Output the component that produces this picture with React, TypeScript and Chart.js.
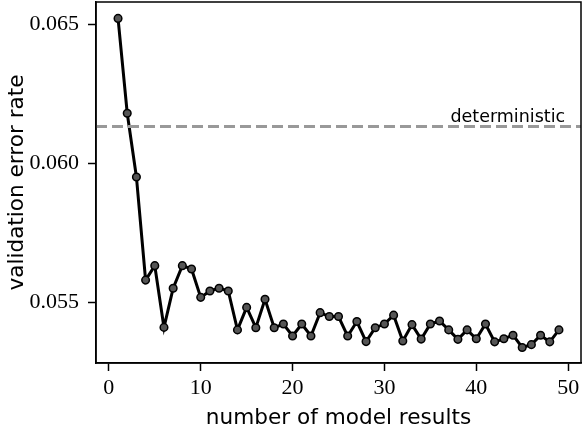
import React, { useEffect, useRef } from "react";
import { Chart, registerables } from "chart.js";

Chart.register(...registerables);

const modelCounts = [
  1, 2, 3, 4, 5, 6, 7, 8, 9, 10, 11, 12, 13, 14, 15, 16, 17, 18, 19, 20, 21, 22, 23, 24, 25,
  26, 27, 28, 29, 30, 31, 32, 33, 34, 35, 36, 37, 38, 39, 40, 41, 42, 43, 44, 45, 46, 47, 48, 49,
];
const errorRates = [
  0.06522, 0.06181, 0.05952, 0.05581, 0.05633, 0.05411, 0.05552, 0.05633, 0.05621, 0.05519,
  0.05542, 0.05552, 0.05542, 0.05402, 0.05483, 0.0541, 0.05512, 0.0541, 0.05423, 0.0538,
  0.05423, 0.0538, 0.05464, 0.0545, 0.0545, 0.0538, 0.05432, 0.0536, 0.0541, 0.05423,
  0.05455, 0.05362, 0.05421, 0.05369, 0.05423, 0.05434, 0.05402, 0.05368, 0.05402, 0.0537,
  0.05423, 0.05359, 0.0537, 0.05383, 0.05339, 0.05349, 0.05383, 0.05359, 0.05402,
];
const deterministicRate = 0.06133;
const deterministicLabel = "deterministic";
const xTicks = [0, 10, 20, 30, 40, 50];
const yTicks = [0.055, 0.06, 0.065];
const xRange = [-1.4, 51.4];
const yRange = [0.05283, 0.06581];

const frame = {
  id: "frame",
  afterDatasetsDraw(chart: any) {
    const { ctx, chartArea, scales } = chart;
    ctx.save();
    ctx.font = "17.5px 'DejaVu Sans'";
    ctx.fillStyle = "#000";
    ctx.textAlign = "right";
    ctx.textBaseline = "alphabetic";
    ctx.fillText(
      deterministicLabel,
      scales.x.getPixelForValue(50) - 3,
      scales.y.getPixelForValue(deterministicRate) - 5
    );
    ctx.strokeStyle = "#000";
    ctx.lineWidth = 1.5;
    ctx.strokeRect(
      chartArea.left,
      chartArea.top,
      chartArea.right - chartArea.left,
      chartArea.bottom - chartArea.top
    );
    ctx.restore();
  },
};

export default function App() {
  const ref = useRef<HTMLCanvasElement>(null);
  useEffect(() => {
    if (!ref.current) return;
    const tickFont = { family: "'Liberation Serif'", size: 22 };
    const titleFont = { family: "'DejaVu Sans'", size: 21.6, lineHeight: 1.2 };
    const chart = new Chart(ref.current, {
      type: "line",
      data: {
        datasets: [
          {
            data: [
              { x: xRange[0], y: deterministicRate },
              { x: xRange[1], y: deterministicRate },
            ],
            borderColor: "#999999",
            borderWidth: 3,
            borderDash: [11, 5],
            pointRadius: 0,
            fill: false,
          },
          {
            data: modelCounts.map((c, i) => ({ x: c, y: errorRates[i] })),
            borderColor: "#000000",
            borderWidth: 3,
            pointRadius: 3.8,
            pointBackgroundColor: "#555555",
            pointBorderColor: "#000000",
            pointBorderWidth: 1.5,
            fill: false,
            tension: 0,
          },
        ],
      },
      options: {
        animation: false,
        responsive: false,
        events: [],
        layout: { autoPadding: false, padding: { top: 2, right: 3, left: 0, bottom: 0 } },
        plugins: { legend: { display: false }, tooltip: { enabled: false } },
        scales: {
          x: {
            type: "linear",
            min: xRange[0],
            max: xRange[1],
            afterFit: (s: any) => {
              s.height = 61;
              s.paddingLeft = 0;
              s.paddingRight = 0;
            },
            afterBuildTicks: (s: any) => {
              s.ticks = xTicks.map((v) => ({ value: v }));
            },
            ticks: {
              color: "#000",
              font: tickFont,
              padding: 4,
              maxRotation: 0,
              callback: (v: any) => String(v),
            },
            grid: {
              display: true,
              drawOnChartArea: false,
              drawTicks: true,
              tickLength: 8,
              tickColor: "#000",
              tickWidth: 1.5,
            },
            border: { display: true, color: "#000", width: 1.5 },
            title: {
              display: true,
              text: "number of model results",
              color: "#000",
              font: titleFont,
              padding: { top: 0, bottom: -7 },
            },
          },
          y: {
            type: "linear",
            min: yRange[0],
            max: yRange[1],
            afterFit: (s: any) => {
              s.width = 96;
              s.paddingTop = 0;
              s.paddingBottom = 0;
            },
            afterBuildTicks: (s: any) => {
              s.ticks = yTicks.map((v) => ({ value: v }));
            },
            ticks: {
              color: "#000",
              font: tickFont,
              padding: 9,
              callback: (v: any) => Number(v).toFixed(3),
            },
            grid: {
              display: true,
              drawOnChartArea: false,
              drawTicks: true,
              tickLength: 8,
              tickColor: "#000",
              tickWidth: 1.5,
            },
            border: { display: true, color: "#000", width: 1.5 },
            title: {
              display: true,
              text: "validation error rate",
              color: "#000",
              font: titleFont,
              padding: { top: 4, bottom: 0 },
            },
          },
        },
      },
      plugins: [frame],
    });
    return () => chart.destroy();
  }, []);
  return (
    <div style={{ position: "fixed", left: 0, top: 0, width: 584, height: 424, background: "#fff" }}>
      <canvas ref={ref} width={584} height={424} style={{ width: 584, height: 424 }} />
    </div>
  );
}
